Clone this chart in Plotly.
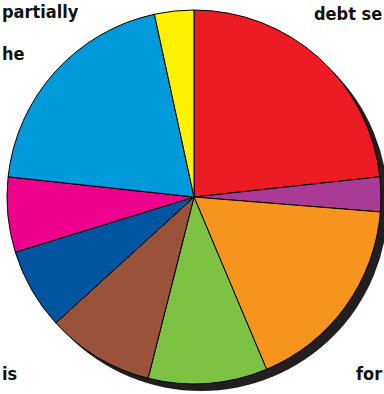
import plotly.graph_objects as go

categories = ["Red", "Purple", "Orange", "Green", "Brown", "Dark blue", "Pink", "Blue", "Yellow"]
values = [23.3, 3.0, 17.4, 10.3, 9.3, 7.0, 6.5, 19.9, 3.4]
colors = ["#ED1C24", "#A93A96", "#F7941D", "#7DC242", "#9A533A", "#0055A0", "#EC008C", "#009ADA", "#FFF200"]

label_texts = ["partially", "he", "debt se", "is", "for"]
label_x = [1, 1, 383, 1, 383]
label_y = [11, 53, 13, 373, 373]
label_anchor = ["left", "left", "right", "left", "right"]

W, H = 384, 394
cx, cy, r = 194, 197, 187
sh = 7

fig = go.Figure()
fig.add_shape(type="circle", xref="paper", yref="paper", layer="below",
              x0=(cx + sh - r) / W, x1=(cx + sh + r) / W,
              y0=(H - cy - sh - r) / H, y1=(H - cy - sh + r) / H,
              fillcolor="#231F20", line=dict(width=0))
fig.add_trace(go.Pie(values=values, labels=categories, marker=dict(colors=colors, line=dict(color="black", width=1)),
                     textinfo="none", sort=False, direction="clockwise", rotation=0,
                     domain=dict(x=[(cx - r) / W, (cx + r) / W], y=[(H - cy - r) / H, (H - cy + r) / H]),
                     showlegend=False))

for t, x, y, a in zip(label_texts, label_x, label_y, label_anchor):
    fig.add_annotation(text=t, x=x / W, y=1 - y / H, xref="paper", yref="paper", xanchor=a, yanchor="middle",
                       showarrow=False, borderpad=0,
                       font=dict(family="DejaVu Sans Condensed, Liberation Sans Narrow, sans-serif", size=18,
                                 color="#111", weight="bold"))

fig.update_layout(width=W, height=H, margin=dict(l=0, r=0, t=0, b=0), paper_bgcolor="white", plot_bgcolor="white")
fig.write_html("out.html")
